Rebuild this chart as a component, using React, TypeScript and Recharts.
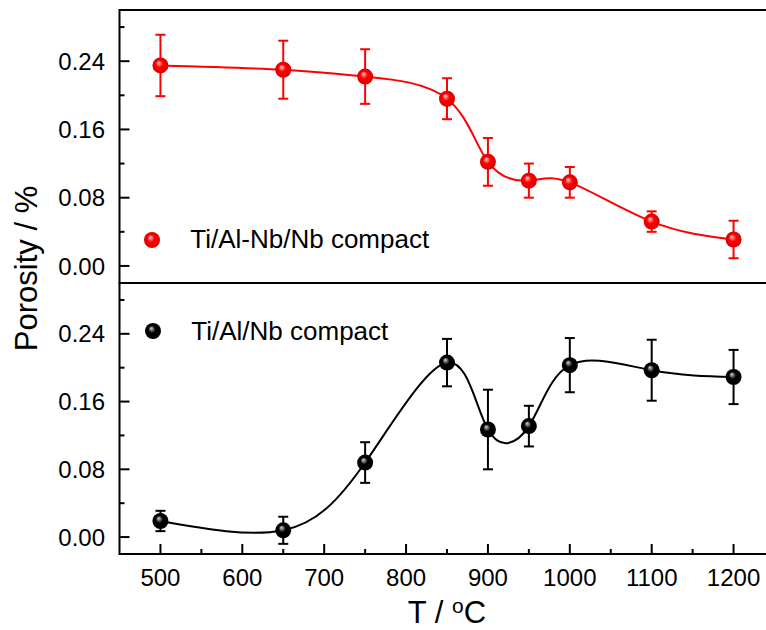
import React from 'react';
import { LineChart, Line, XAxis, YAxis, ErrorBar, Legend, ReferenceArea } from 'recharts';

// ---------- data ----------
const temperatures = [500, 650, 750, 850, 900, 950, 1000, 1100, 1200];
const porosityNbLayer = [0.235, 0.23, 0.222, 0.196, 0.122, 0.1, 0.098, 0.052, 0.031];
const errorNbLayer = [0.036, 0.034, 0.032, 0.024, 0.028, 0.02, 0.018, 0.012, 0.022];
const porosityPlain = [0.019, 0.008, 0.088, 0.206, 0.127, 0.131, 0.203, 0.197, 0.189];
const errorPlain = [0.012, 0.016, 0.024, 0.028, 0.047, 0.024, 0.032, 0.036, 0.032];

const xTicks = [500, 550, 600, 650, 700, 750, 800, 850, 900, 950, 1000, 1050, 1100, 1150, 1200];
const xMajorTicks = [500, 600, 700, 800, 900, 1000, 1100, 1200];
const yTicks = [0, 0.04, 0.08, 0.12, 0.16, 0.2, 0.24, 0.28];
const yMajorTicks = [0, 0.08, 0.16, 0.24];
const seriesNames = ['Ti/Al-Nb/Nb compact', 'Ti/Al/Nb compact'];
const yTitle = 'Porosity / %';

const topData = temperatures.map((t, i) => ({ t, p: porosityNbLayer[i], e: errorNbLayer[i] }));
const bottomData = temperatures.map((t, i) => ({ t, p: porosityPlain[i], e: errorPlain[i] }));

// ---------- styling ----------
const FONT = '"Liberation Sans", Arial, Helvetica, sans-serif';
const MAJOR = 10;
const MINOR = 5;
const X_DOMAIN: [number, number] = [450, 1250];
const Y_DOMAIN: [number, number] = [-0.02, 0.3];

const isMajor = (v: number, majors: number[]) => majors.some((m) => Math.abs(m - v) < 1e-9);

const LeftTick = (props: any) => {
  const { x, y, payload } = props;
  const major = isMajor(payload.value, yMajorTicks);
  return (
    <g>
      <line x1={x} x2={x + (major ? MAJOR : MINOR)} y1={y} y2={y} stroke="#000" strokeWidth={2} />
      {major && (
        <text x={x - 14.5} y={y} dy="0.36em" textAnchor="end" fontSize={24} fontFamily={FONT} fill="#000">
          {Number(payload.value).toFixed(2)}
        </text>
      )}
    </g>
  );
};

const RightTick = (props: any) => {
  const { x, y, payload } = props;
  const major = isMajor(payload.value, yMajorTicks);
  return <line x1={x} x2={x - (major ? MAJOR : MINOR)} y1={y} y2={y} stroke="#000" strokeWidth={2} />;
};

const BottomTick = (props: any) => {
  const { x, y, payload, showLabel } = props;
  const major = isMajor(payload.value, xMajorTicks);
  return (
    <g>
      <line x1={x} x2={x} y1={y} y2={y - (major ? MAJOR : MINOR)} stroke="#000" strokeWidth={2} />
      {showLabel && major && (
        <text x={x} y={y + 31.5} textAnchor="middle" fontSize={24} fontFamily={FONT} fill="#000">
          {payload.value}
        </text>
      )}
    </g>
  );
};

const TopTick = (props: any) => {
  const { x, y, payload } = props;
  const major = isMajor(payload.value, xMajorTicks);
  return <line x1={x} x2={x} y1={y} y2={y + (major ? MAJOR : MINOR)} stroke="#000" strokeWidth={2} />;
};

const Ball = (id: string) => (props: any) => {
  const { cx, cy, index } = props;
  if (cx == null || cy == null) return <g key={`b-${id}-${index}`} />;
  return <circle key={`b-${id}-${index}`} cx={cx} cy={cy} r={8} fill={`url(#${id})`} />;
};

const Gradients = ({ id, light, base, dark }: { id: string; light: string; base: string; dark: string }) => (
  <defs>
    <radialGradient id={id} cx="0.5" cy="0.5" r="0.5" fx="0.38" fy="0.32">
      <stop offset="0%" stopColor={light} />
      <stop offset="45%" stopColor={base} />
      <stop offset="100%" stopColor={dark} />
    </radialGradient>
  </defs>
);

const LegendItem = ({ id, text, textY }: { id: string; text: string; textY: number }) => (
  <svg width={330} height={40} style={{ overflow: 'visible', display: 'block' }}>
    <circle cx={12} cy={20} r={8} fill={`url(#${id})`} />
    <text x={50.3} y={textY} fontSize={26} fontFamily={FONT} fill="#000">
      {text}
    </text>
  </svg>
);

const Panel = ({
  data,
  color,
  gradId,
  light,
  dark,
  height,
  margin,
  xHeight,
  showXLabels,
  legendText,
  legendPos,
  legendTextY,
}: any) => (
  <LineChart width={776} height={height} data={data} margin={margin}>
    <Gradients id={gradId} light={light} base={color} dark={dark} />
    <XAxis
      xAxisId={0}
      type="number"
      dataKey="t"
      domain={X_DOMAIN}
      ticks={xTicks}
      interval={0}
      allowDataOverflow
      height={xHeight}
      tickSize={0}
      tickMargin={0}
      tickLine={false}
      axisLine={false}
      tick={(p: any) => <BottomTick {...p} showLabel={showXLabels} />}
    />
    <XAxis
      xAxisId="top"
      orientation="top"
      type="number"
      dataKey="t"
      domain={X_DOMAIN}
      ticks={xTicks}
      interval={0}
      allowDataOverflow
      height={0}
      tickSize={0}
      tickMargin={0}
      tickLine={false}
      axisLine={false}
      tick={showXLabels ? false : (p: any) => <TopTick {...p} />}
    />
    <YAxis
      yAxisId={0}
      type="number"
      domain={Y_DOMAIN}
      ticks={yTicks}
      interval={0}
      allowDataOverflow
      width={119.5}
      tickSize={0}
      tickMargin={0}
      tickLine={false}
      axisLine={false}
      tick={(p: any) => <LeftTick {...p} />}
    />
    <YAxis
      yAxisId="right"
      orientation="right"
      type="number"
      domain={Y_DOMAIN}
      ticks={yTicks}
      interval={0}
      allowDataOverflow
      width={0}
      tickSize={0}
      tickMargin={0}
      tickLine={false}
      axisLine={false}
      tick={(p: any) => <RightTick {...p} />}
    />
    <ReferenceArea
      xAxisId={0}
      yAxisId={0}
      x1={X_DOMAIN[0]}
      x2={X_DOMAIN[1]}
      y1={Y_DOMAIN[0]}
      y2={Y_DOMAIN[1]}
      fill="none"
      fillOpacity={0}
      stroke="#000"
      strokeWidth={2}
      strokeOpacity={1}
      ifOverflow="visible"
    />
    <Line
      xAxisId={0}
      yAxisId={0}
      type="natural"
      dataKey="p"
      stroke={color}
      strokeWidth={2}
      dot={Ball(gradId)}
      activeDot={false}
      isAnimationActive={false}
    >
      <ErrorBar dataKey="e" direction="y" width={5} strokeWidth={2} stroke={color} isAnimationActive={false} />
    </Line>
    <Legend
      layout="vertical"
      align="center"
      verticalAlign="middle"
      wrapperStyle={{ position: 'absolute', left: legendPos.left, top: legendPos.top, width: 330, height: 40 }}
      content={() => <LegendItem id={gradId} text={legendText} textY={legendTextY} />}
    />
  </LineChart>
);

export default function App() {
  return (
    <div
      style={{
        position: 'absolute',
        left: 0,
        top: 0,
        width: 766,
        height: 630,
        overflow: 'hidden',
        background: '#fff',
      }}
    >
      <div style={{ position: 'absolute', left: 0, top: 0 }}>
        <Panel
          data={topData}
          color="#ff0000"
          gradId="redBall"
          light="#ffd0d0"
          dark="#d80000"
          height={284}
          margin={{ top: 10, right: 1.5, bottom: 1, left: 0 }}
          xHeight={0}
          showXLabels={false}
          legendText={seriesNames[0]}
          legendPos={{ left: 139.7, top: 220 }}
          legendTextY={28}
        />
      </div>
      <div style={{ position: 'absolute', left: 0, top: 282 }}>
        <Panel
          data={bottomData}
          color="#000000"
          gradId="blackBall"
          light="#d8d8d8"
          dark="#000000"
          height={348}
          margin={{ top: 1, right: 1.5, bottom: 0, left: 0 }}
          xHeight={76}
          showXLabels={true}
          legendText={seriesNames[1]}
          legendPos={{ left: 141, top: 28.7 }}
          legendTextY={29.3}
        />
      </div>
      <svg
        width={766}
        height={630}
        style={{ position: 'absolute', left: 0, top: 0, pointerEvents: 'none' }}
      >
        <text
          x={37}
          y={268.5}
          transform="rotate(-90 37 268.5)"
          textAnchor="middle"
          fontSize={31}
          fontFamily={FONT}
          fill="#000"
        >
          {yTitle}
        </text>
        <text x={447} y={623} textAnchor="middle" fontSize={31} fontFamily={FONT} fill="#000">
          <tspan>T / </tspan>
          <tspan fontSize={21} dy={-10}>
            o
          </tspan>
          <tspan dy={10}>C</tspan>
        </text>
      </svg>
    </div>
  );
}
